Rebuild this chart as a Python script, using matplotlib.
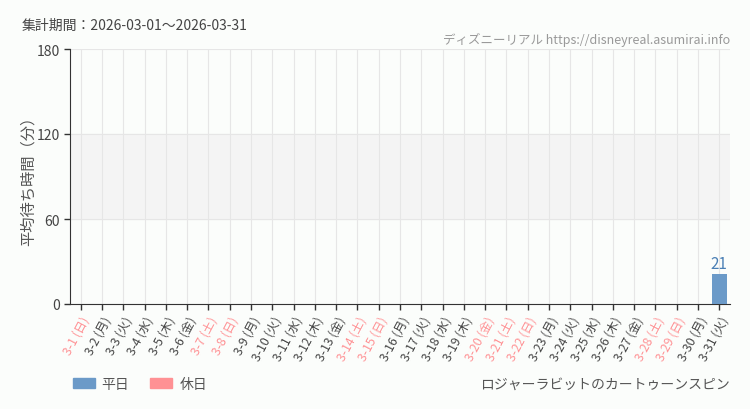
import matplotlib
matplotlib.use('Agg')
import matplotlib.pyplot as plt
from matplotlib.patches import Patch

plt.rcParams['font.family'] = ['Noto Sans CJK JP', 'DejaVu Sans']

# 集計データ
days = ['3-%d' % d for d in range(1, 32)]
weekdays = ['日', '月', '火', '水', '木', '金', '土',
            '日', '月', '火', '水', '木', '金', '土',
            '日', '月', '火', '水', '木', '金', '土',
            '日', '月', '火', '水', '木', '金', '土',
            '日', '月', '火']
holidays = ['3-1', '3-7', '3-8', '3-14', '3-15', '3-20', '3-21', '3-22', '3-28', '3-29']
waits = [0] * 30 + [21]
yticks = [0, 60, 120, 180]

blue = '#6b9ac8'
pink = '#ff9194'
bg = '#fbfdfb'

fig = plt.figure(figsize=(7.5, 4.1), dpi=100, facecolor=bg)
ax = fig.add_axes([70 / 750, 105 / 410, 660 / 750, 255 / 410])
ax.set_facecolor(bg)

x = list(range(len(days)))
colors = [pink if d in holidays else blue for d in days]
ax.bar(x, waits, width=0.7, color=colors, zorder=3)
for i, v in enumerate(waits):
    if v > 0:
        ax.text(i, v + 1.5, str(v), ha='center', va='bottom',
                color='#4a7fb5' if colors[i] == blue else pink, fontsize=11)

ax.axhspan(60, 120, color='#f4f4f4', zorder=0)
ax.set_xlim(-0.5, len(days) - 0.5)
ax.set_ylim(0, 180)
ax.set_yticks(yticks)
ax.set_yticklabels([str(t) for t in yticks], fontsize=10, color='#444444')
ax.set_xticks(x)
labels = ['%s (%s)' % (d, w) for d, w in zip(days, weekdays)]
ax.set_xticklabels(labels, rotation=62, ha='right', rotation_mode='anchor', fontsize=8.8)
for lbl, d in zip(ax.get_xticklabels(), days):
    lbl.set_color(pink if d in holidays else '#444444')

ax.grid(True, color='#e6e6e6', linewidth=0.8, zorder=1)
ax.tick_params(axis='both', length=4, color='#333333', width=1)
ax.tick_params(axis='x', pad=3)
for s in ['top', 'right']:
    ax.spines[s].set_visible(False)
ax.spines['left'].set_color('#333333')
ax.spines['bottom'].set_color('#333333')

ax.set_ylabel('平均待ち時間（分）', fontsize=11, color='#555555')
ax.yaxis.set_label_coords(-0.05, 0.5)

fig.text(22 / 750, 1 - 26 / 410, '集計期間：2026-03-01〜2026-03-31', fontsize=10,
         color='#444444', va='center')
fig.text(730 / 750, 1 - 40 / 410, 'ディズニーリアル https://disneyreal.asumirai.info',
         fontsize=9, color='#999999', ha='right', va='center')
fig.text(730 / 750, 1 - 385 / 410, 'ロジャーラビットのカートゥーンスピン', fontsize=10,
         color='#555555', ha='right', va='center')

handles = [Patch(color=blue, label='平日'), Patch(color=pink, label='休日')]
fig.legend(handles=handles, loc='center left', bbox_to_anchor=(60 / 750, 1 - 385 / 410),
           ncol=2, frameon=False, fontsize=10, handlelength=1.6, handleheight=0.8,
           columnspacing=1.5, handletextpad=0.5, labelcolor='#555555')

fig.savefig('out.png', dpi=100, facecolor=bg)
